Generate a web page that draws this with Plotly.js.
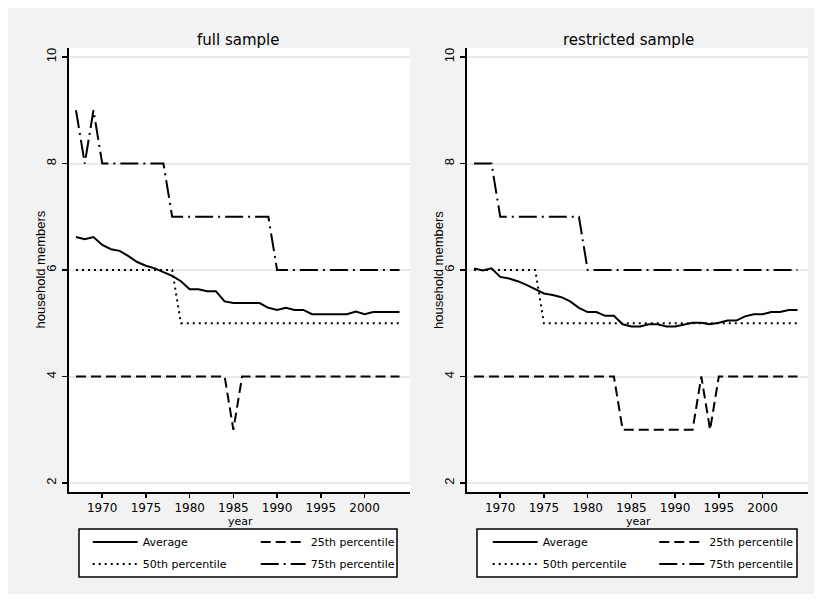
<!DOCTYPE html>
<html><head><meta charset="utf-8">
<script src="https://cdn.plot.ly/plotly-3.0.1.min.js"></script>
<style>
html,body{margin:0;padding:0;background:#ffffff;width:822px;height:602px;overflow:hidden}
#chart{position:absolute;left:8px;top:8px;width:806px;height:586px}
</style>
</head><body><div id="chart"></div>
<script>
// ---- data ----
const years = [1967,1968,1969,1970,1971,1972,1973,1974,1975,1976,1977,1978,1979,1980,1981,1982,1983,1984,1985,1986,1987,1988,1989,1990,1991,1992,1993,1994,1995,1996,1997,1998,1999,2000,2001,2002,2003,2004];
const seriesNames = ["Average","25th percentile","50th percentile","75th percentile"];
const panelTitles = ["full sample","restricted sample"];
const xTitle = "year";
const yTitle = "household members";
const xTicks = [1970,1975,1980,1985,1990,1995,2000];
const yTicks = [2,4,6,8,10];

const fullAverage = [6.62,6.58,6.62,6.47,6.39,6.36,6.26,6.15,6.08,6.03,5.96,5.89,5.79,5.64,5.64,5.60,5.60,5.41,5.38,5.38,5.38,5.38,5.29,5.25,5.29,5.25,5.25,5.17,5.17,5.17,5.17,5.17,5.22,5.17,5.21,5.21,5.21,5.21];
const fullP25 = [4,4,4,4,4,4,4,4,4,4,4,4,4,4,4,4,4,4,3,4,4,4,4,4,4,4,4,4,4,4,4,4,4,4,4,4,4,4];
const fullP50 = [6,6,6,6,6,6,6,6,6,6,6,6,5,5,5,5,5,5,5,5,5,5,5,5,5,5,5,5,5,5,5,5,5,5,5,5,5,5];
const fullP75 = [9,8,9,8,8,8,8,8,8,8,8,7,7,7,7,7,7,7,7,7,7,7,7,6,6,6,6,6,6,6,6,6,6,6,6,6,6,6];

const restrAverage = [6.03,5.99,6.03,5.87,5.84,5.79,5.72,5.64,5.56,5.53,5.49,5.41,5.29,5.21,5.21,5.14,5.14,4.98,4.94,4.94,4.98,4.98,4.94,4.94,4.98,5.01,5.01,4.98,5.01,5.05,5.05,5.13,5.17,5.17,5.21,5.21,5.25,5.25];
const restrP25 = [4,4,4,4,4,4,4,4,4,4,4,4,4,4,4,4,4,3,3,3,3,3,3,3,3,3,4,3,4,4,4,4,4,4,4,4,4,4];
const restrP50 = [6,6,6,6,6,6,6,6,5,5,5,5,5,5,5,5,5,5,5,5,5,5,5,5,5,5,5,5,5,5,5,5,5,5,5,5,5,5];
const restrP75 = [8,8,8,7,7,7,7,7,7,7,7,7,7,6,6,6,6,6,6,6,6,6,6,6,6,6,6,6,6,6,6,6,6,6,6,6,6,6];

// ---- styles ----
const dashes = ["solid","10px,5px","2px,4px","18px,5px,2px,5px"];
const W = 806, H = 586;
const LINEW = 2;

function tr(y, idx, xa, ya, leg, grp){
  return {x: years, y: y, name: seriesNames[idx], type:'scatter', mode:'lines',
    line:{color:'#000', width:LINEW, dash:dashes[idx]},
    xaxis:xa, yaxis:ya, legend:leg, legendgroup:grp, hoverinfo:'skip'};
}
const data = [
  tr(fullAverage,0,'x','y','legend','a1'),
  tr(fullP25,1,'x','y','legend2','a2'),
  tr(fullP50,2,'x','y','legend','a3'),
  tr(fullP75,3,'x','y','legend2','a4'),
  tr(restrAverage,0,'x2','y2','legend3','b1'),
  tr(restrP25,1,'x2','y2','legend4','b2'),
  tr(restrP50,2,'x2','y2','legend3','b3'),
  tr(restrP75,3,'x2','y2','legend4','b4')
];

const tickFontX = {family:'DejaVu Sans', size:12, color:'#000'};
const tickFontY = {family:'Liberation Sans, Arial', size:13, color:'#000'};
function xax(dom){
  return {domain:dom, range:[1966.2,2005.2], tickmode:'array', tickvals:xTicks,
    ticks:'outside', ticklen:4, tickwidth:1.5, tickcolor:'#000', ticklabelstandoff:0,
    showline:true, linecolor:'#000', linewidth:2, showgrid:false, zeroline:false,
    tickfont:tickFontX, fixedrange:true};
}
function yax(anchor){
  return {domain:[1-484/H, 1-40/H], range:[1.831,10.169], tickmode:'array', tickvals:yTicks,
    tickangle:-90, ticks:'outside', ticklen:5, tickwidth:1.5, tickcolor:'#000',
    ticklabelstandoff:1,
    showline:true, linecolor:'#000', linewidth:2, showgrid:true, gridcolor:'#e9e9e9', gridwidth:2,
    zeroline:false, tickfont:tickFontY, anchor:anchor, fixedrange:true};
}
function leg(xpx){
  return {x:xpx/W, y:1-519.5/H, xanchor:'left', yanchor:'top', orientation:'v',
    bgcolor:'rgba(0,0,0,0)', borderwidth:0, itemwidth:45, tracegroupgap:3,
    font:{family:'DejaVu Sans', size:11, color:'#000'}, itemclick:false, itemdoubleclick:false};
}
function box(x0,x1){
  return {type:'rect', xref:'paper', yref:'paper', x0:x0/W, x1:x1/W, y0:1-569/H, y1:1-521/H,
    fillcolor:'#ffffff', line:{color:'#000', width:1.5}, layer:'below'};
}
function ann(text, xpx, ypx, size, family, angle){
  return {text:text, xref:'paper', yref:'paper', x:xpx/W, y:1-ypx/H, xanchor:'center', yanchor:'middle',
    showarrow:false, borderpad:0, textangle:angle||0, font:{family:family, size:size, color:'#000'}};
}
const layout = {
  width:W, height:H, margin:{l:0,r:0,t:0,b:0},
  paper_bgcolor:'#f2f2f2', plot_bgcolor:'#ffffff',
  showlegend:true,
  xaxis: Object.assign(xax([61/W, 402/W]), {anchor:'y'}),
  yaxis: yax('x'),
  xaxis2: Object.assign(xax([459/W, 800/W]), {anchor:'y2'}),
  yaxis2: yax('x2'),
  legend: leg(79.7),
  legend2: leg(247.7),
  legend3: leg(479.7),
  legend4: leg(646.3),
  shapes:[box(71,389), box(469,789)],
  annotations:[
    ann(panelTitles[0], 230, 32, 15, 'DejaVu Sans'),
    ann(panelTitles[1], 620, 32, 15, 'DejaVu Sans'),
    ann(xTitle, 232, 513, 11, 'DejaVu Sans'),
    ann(xTitle, 630.3, 513, 11, 'DejaVu Sans'),
    ann(yTitle, 31.5, 262, 13, 'Liberation Sans, Arial', -90),
    ann(yTitle, 430, 262, 13, 'Liberation Sans, Arial', -90)
  ]
};
Plotly.newPlot('chart', data, layout, {displayModeBar:false, staticPlot:true});
</script></body></html>
